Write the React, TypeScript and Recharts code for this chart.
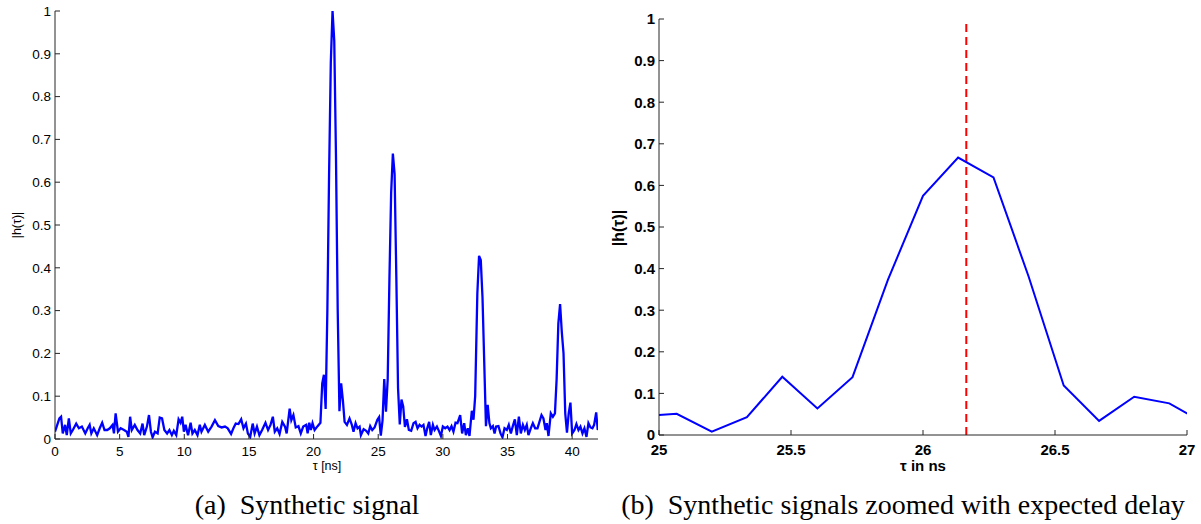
import { Line, LineChart, ReferenceLine, XAxis, YAxis } from "recharts";

type Sample = [number, number]; // [tau in ns, |h(tau)|]

// Noise floor ahead of the first arrival.
const leadNoise: Sample[] = [
  [0, 0.017], [0.13, 0.029], [0.34, 0.048], [0.47, 0.052], [0.6, 0.013],
  [0.78, 0.033], [0.91, 0.009], [1.07, 0.048], [1.22, 0.013], [1.38, 0.021],
  [1.64, 0.036], [1.85, 0.025], [2.08, 0.029], [2.34, 0.013], [2.53, 0.025],
  [2.68, 0.033], [2.81, 0.013], [3.0, 0.025], [3.26, 0.009], [3.46, 0.025],
  [3.65, 0.038], [3.83, 0.021], [4.04, 0.021], [4.24, 0.025], [4.45, 0.033],
  [4.56, 0.013], [4.69, 0.06], [4.87, 0.017], [5.08, 0.025], [5.34, 0.021],
  [5.55, 0.017], [5.68, 0.005], [5.81, 0.052], [5.94, 0.021], [6.17, 0.033],
  [6.38, 0.021], [6.59, 0.013], [6.77, 0.036], [6.9, 0.009], [7.11, 0.029],
  [7.27, 0.056], [7.42, 0.017], [7.55, 0.004], [7.73, 0.017], [7.94, 0.013],
  [8.1, 0.05], [8.28, 0.048], [8.46, 0.021], [8.67, 0.013], [8.85, 0.021],
  [9.04, 0.009], [9.19, 0.019], [9.38, 0.009], [9.56, 0.046], [9.71, 0.038],
  [9.84, 0.052], [9.97, 0.017], [10.1, 0.033], [10.29, 0.009], [10.49, 0.038],
  [10.63, 0.013], [10.81, 0.021], [11.02, 0.009], [11.2, 0.033], [11.33, 0.017],
  [11.59, 0.033], [11.85, 0.017], [12.11, 0.029], [12.37, 0.044], [12.63, 0.03],
  [12.89, 0.027], [13.15, 0.029], [13.36, 0.025], [13.62, 0.012], [13.8, 0.025],
  [13.98, 0.036], [14.19, 0.035], [14.4, 0.046], [14.58, 0.025], [14.77, 0.036],
  [14.92, 0.013], [15.1, 0.005], [15.29, 0.036], [15.44, 0.013], [15.62, 0.029],
  [15.81, 0.009], [16.02, 0.021], [16.28, 0.038], [16.48, 0.021], [16.67, 0.033],
  [16.85, 0.052], [17.0, 0.017], [17.19, 0.025], [17.37, 0.012], [17.58, 0.04],
  [17.79, 0.029], [17.92, 0.013], [18.15, 0.071], [18.28, 0.044], [18.44, 0.056],
  [18.62, 0.027], [18.83, 0.03], [19.01, 0.013], [19.2, 0.029], [19.43, 0.033],
  [19.54, 0.013], [19.67, 0.038], [19.79, 0.021], [19.92, 0.037], [20.08, 0.021],
  [20.31, 0.03], [20.53, 0.038],
];

const firstPath: Sample[] = [
  [20.67, 0.13], [20.8, 0.15], [20.933, 0.07], [21.067, 0.3], [21.2, 0.62],
  [21.333, 0.88], [21.467, 1.0], [21.6, 0.93], [21.733, 0.66], [21.867, 0.3],
  [22.0, 0.065], [22.133, 0.13], [22.267, 0.09], [22.4, 0.04],
];

const gapNoiseA: Sample[] = [
  [22.58, 0.033], [22.78, 0.048], [22.96, 0.033], [23.09, 0.017], [23.25, 0.037],
  [23.4, 0.025], [23.56, 0.029], [23.66, 0.009], [23.87, 0.023], [24.07, 0.019],
  [24.23, 0.013], [24.38, 0.03], [24.54, 0.021], [24.72, 0.027],
];

// Second arrival, the one shown zoomed in panel (b).
const secondPath: Sample[] = [
  [24.933, 0.045], [25.067, 0.051], [25.2, 0.008], [25.333, 0.043], [25.467, 0.14],
  [25.6, 0.064], [25.733, 0.139], [25.867, 0.373], [26.0, 0.575], [26.133, 0.667],
  [26.267, 0.619], [26.4, 0.381], [26.533, 0.119], [26.667, 0.034], [26.8, 0.092],
  [26.933, 0.076], [27.067, 0.028],
];

const gapNoiseB: Sample[] = [
  [27.22, 0.046], [27.37, 0.021], [27.55, 0.019], [27.73, 0.037], [27.89, 0.04],
  [28.04, 0.025], [28.2, 0.033], [28.35, 0.029], [28.5, 0.033], [28.66, 0.007],
  [28.79, 0.025], [28.94, 0.04], [29.07, 0.009], [29.23, 0.033], [29.36, 0.021],
  [29.54, 0.029], [29.69, 0.019], [29.85, 0.007], [30.0, 0.029], [30.18, 0.025],
  [30.36, 0.029], [30.52, 0.021], [30.67, 0.03], [30.82, 0.017], [30.98, 0.038],
  [31.13, 0.037], [31.34, 0.056], [31.49, 0.013], [31.65, 0.037], [31.78, 0.009],
  [31.93, 0.025], [32.06, 0.007],
];

const thirdPath: Sample[] = [
  [32.24, 0.066], [32.37, 0.045], [32.5, 0.1], [32.667, 0.34], [32.8, 0.428],
  [32.933, 0.418], [33.067, 0.33], [33.2, 0.18], [33.333, 0.03], [33.467, 0.08],
  [33.6, 0.037],
];

const gapNoiseC: Sample[] = [
  [33.71, 0.025], [33.87, 0.03], [34.0, 0.013], [34.12, 0.029], [34.3, 0.03],
  [34.46, 0.013], [34.61, 0.004], [34.77, 0.025], [34.95, 0.021], [35.1, 0.033],
  [35.26, 0.013], [35.41, 0.03], [35.57, 0.046], [35.72, 0.009], [35.88, 0.052],
  [36.03, 0.013], [36.19, 0.033], [36.34, 0.021], [36.49, 0.033], [36.62, 0.009],
  [36.8, 0.025], [36.96, 0.037], [37.14, 0.025], [37.32, 0.025], [37.47, 0.04],
  [37.63, 0.056], [37.78, 0.048], [37.94, 0.021], [38.04, 0.037], [38.17, 0.007],
  [38.35, 0.06], [38.51, 0.052], [38.67, 0.06],
];

const fourthPath: Sample[] = [
  [38.8, 0.14], [38.933, 0.27], [39.067, 0.315], [39.2, 0.25], [39.333, 0.2],
  [39.467, 0.06], [39.6, 0.015], [39.733, 0.06], [39.867, 0.085], [40.0, 0.013],
];

const tailNoise: Sample[] = [
  [40.18, 0.021], [40.33, 0.035], [40.49, 0.021], [40.64, 0.029], [40.8, 0.013],
  [40.95, 0.025], [41.11, 0.005], [41.26, 0.037], [41.42, 0.027], [41.57, 0.025],
  [41.7, 0.033], [41.86, 0.062], [41.98, 0.021], [42.1, 0.04],
];

const FULL_TICKS = [0, 5, 10, 15, 20, 25, 30, 35, 40];
const ZOOM_TICKS = [25, 25.5, 26, 26.5, 27];
const MAG_TICKS = [0, 0.1, 0.2, 0.3, 0.4, 0.5, 0.6, 0.7, 0.8, 0.9, 1];
const EXPECTED_DELAY_NS = 26.164;

const signal = [
  ...leadNoise, ...firstPath, ...gapNoiseA, ...secondPath, ...gapNoiseB,
  ...thirdPath, ...gapNoiseC, ...fourthPath, ...tailNoise,
].map(([tau, mag]) => ({ tau, mag }));

const zoomed = signal.filter((d) => d.tau > 24.9 && d.tau < 27.1);

const SANS = '"Liberation Sans", Arial, Helvetica, sans-serif';
const AXIS = "#262626";

const captionStyle: React.CSSProperties = {
  position: "absolute",
  top: 491,
  width: 600,
  textAlign: "center",
  fontFamily: '"Liberation Serif", "DejaVu Serif", serif',
  fontSize: 28,
  lineHeight: "28px",
  color: "#000",
  whiteSpace: "nowrap",
};

/** Subfigure caption: "(a)" tag, a wider LaTeX-like gap, then the text. */
function Caption({ tag, text, left }: { tag: string; text: string; left: number }) {
  return (
    <div style={{ ...captionStyle, left }}>
      <span style={{ marginRight: 14 }}>{tag}</span>
      {text}
    </div>
  );
}

function FullSignal() {
  return (
    <LineChart
      width={610}
      height={480}
      data={signal}
      margin={{ top: 11, right: 12, left: 0, bottom: 0 }}
    >
      <XAxis
        dataKey="tau"
        type="number"
        domain={[0, 42]}
        allowDataOverflow
        ticks={FULL_TICKS}
        height={41}
        stroke={AXIS}
        tickSize={-5}
        tickMargin={12}
        tick={{ fontSize: 13.5, fill: "#000", fontFamily: SANS }}
      />
      <YAxis
        type="number"
        domain={[0, 1]}
        allowDataOverflow
        ticks={MAG_TICKS}
        width={55}
        stroke={AXIS}
        tickSize={-5}
        tickMargin={9}
        tick={{ fontSize: 13.5, fill: "#000", fontFamily: SANS }}
      />
      <Line
        dataKey="mag"
        type="linear"
        stroke="#0000ff"
        strokeWidth={2.3}
        dot={false}
        isAnimationActive={false}
      />
      <text
        x={17}
        y={225}
        transform="rotate(-90, 17, 225)"
        textAnchor="middle"
        dominantBaseline="central"
        fontSize={12.5}
        fontFamily={SANS}
        fill="#000"
      >
        |h(τ)|
      </text>
      <text
        x={327}
        y={470}
        textAnchor="middle"
        fontSize={12.5}
        fontFamily={SANS}
        fill="#000"
      >
        τ [ns]
      </text>
    </LineChart>
  );
}

function ZoomedSignal() {
  return (
    <LineChart
      width={600}
      height={480}
      data={zoomed}
      margin={{ top: 19, right: 13, left: 0, bottom: 0 }}
    >
      <XAxis
        dataKey="tau"
        type="number"
        domain={[25, 27]}
        allowDataOverflow
        ticks={ZOOM_TICKS}
        height={45}
        stroke={AXIS}
        tickSize={-5}
        tickMargin={14}
        tick={{ fontSize: 15, fontWeight: 700, fill: "#000", fontFamily: SANS }}
      />
      <YAxis
        type="number"
        domain={[0, 1]}
        allowDataOverflow
        ticks={MAG_TICKS}
        width={59}
        stroke={AXIS}
        tickSize={-5}
        tickMargin={9}
        tick={{ fontSize: 15, fontWeight: 700, fill: "#000", fontFamily: SANS }}
      />
      <ReferenceLine
        x={EXPECTED_DELAY_NS}
        stroke="#ff0000"
        strokeWidth={2}
        strokeDasharray="8 5"
      />
      <Line
        dataKey="mag"
        type="linear"
        stroke="#0000ff"
        strokeWidth={2}
        dot={false}
        isAnimationActive={false}
      />
      <text
        x={18}
        y={228}
        transform="rotate(-90, 18, 228)"
        textAnchor="middle"
        dominantBaseline="central"
        fontSize={16}
        fontWeight={700}
        fontFamily={SANS}
        fill="#000"
      >
        |h(τ)|
      </text>
      <text
        x={323}
        y={471}
        textAnchor="middle"
        fontSize={15}
        fontWeight={700}
        fontFamily={SANS}
        fill="#000"
      >
        τ in ns
      </text>
    </LineChart>
  );
}

export default function App() {
  return (
    <div
      style={{
        position: "absolute",
        left: 0,
        top: 0,
        width: 1201,
        height: 524,
        background: "#fff",
        overflow: "hidden",
      }}
    >
      <div style={{ position: "absolute", left: 0, top: 0 }}>
        <FullSignal />
      </div>
      <div style={{ position: "absolute", left: 600, top: 0 }}>
        <ZoomedSignal />
      </div>
      <Caption tag="(a)" text="Synthetic signal" left={7} />
      <Caption tag="(b)" text="Synthetic signals zoomed with expected delay" left={603} />
    </div>
  );
}
